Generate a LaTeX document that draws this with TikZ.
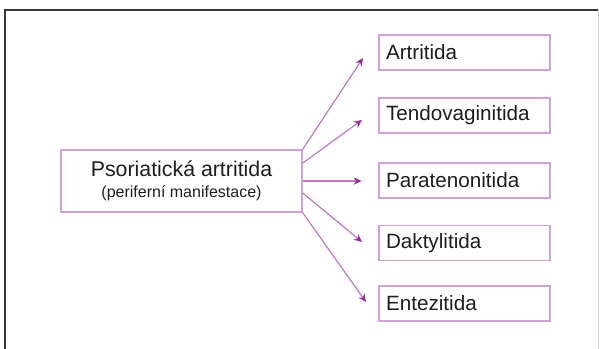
\documentclass[tikz,border=0pt]{standalone}
\usepackage{fontspec}
\setmainfont{Liberation Sans}
\usetikzlibrary{arrows.meta}

\definecolor{boxline}{RGB}{208,160,214}
\definecolor{arrline}{RGB}{190,120,196}
\definecolor{arrtip}{RGB}{150,45,150}
\definecolor{txt}{RGB}{30,30,30}
\definecolor{frameline}{RGB}{55,55,55}
\definecolor{faintline}{RGB}{215,215,215}

\tikzset{every picture/.style={line width=1.1pt}}
\tikzset{
  mainbox/.style={draw=boxline, minimum width=180.75pt, minimum height=46.5pt, align=center, text=txt, inner sep=0pt},
  sidebox/.style={draw=boxline, minimum height=26.25pt, text width=117.75pt, inner xsep=5.25pt, inner ysep=0pt, align=left, text=txt, font=\fontsize{15.5}{18}\selectfont},
  arr/.style={draw=arrline, line width=0.9pt, -{Stealth[length=6pt,width=5.5pt,inset=2pt,color=arrtip]}}
}

\begin{document}
\begin{tikzpicture}[x=0.75pt,y=0.75pt,yscale=-1,xscale=1]
    \useasboundingbox (0,0) rectangle (599,349);
    
    %Frame
    \draw [frameline, line width=1.5pt] (5,349) -- (5,10) -- (598,10) ;
    \draw [faintline, line width=0.6pt] (598,10) -- (598,349) ;
    
    % Main box
    \node [mainbox] (psa) at (181.5,181) {{\fontsize{16}{19}\selectfont Psoriatická artritida}\\[4pt]{\fontsize{12}{14}\selectfont (periferní manifestace)}};
    
    % Side boxes
    \node [sidebox] (art) at (464.5,52.5) {Artritida};
    \node [sidebox] (ten) at (464.5,115.5) {Tendovaginitida};
    \node [sidebox] (par) at (464.5,180.5) {Paratenonitida};
    \node [sidebox] (dak) at (464.5,243) {Daktylitida};
    \node [sidebox] (ent) at (464.5,303.5) {Entezitida};
    
    % Arrow tips
    \coordinate (tipart) at (363,58);
    \coordinate (tipten) at (362,120);
    \coordinate (tipdak) at (362,242);
    \coordinate (tipent) at (366,302);
    
    % Arrows
    \draw [arr] (psa.north east) -- (tipart) ;
    \draw [arr] ([yshift=-13.5pt]psa.east) -- (tipten) ;
    \draw [arr, shorten >=12.5pt] (psa.east) -- (par.west |- psa.east) ;
    \draw [arr] ([yshift=9pt]psa.east) -- (tipdak) ;
    \draw [arr] (psa.south east) -- (tipent) ;
    
\end{tikzpicture}
\end{document}
